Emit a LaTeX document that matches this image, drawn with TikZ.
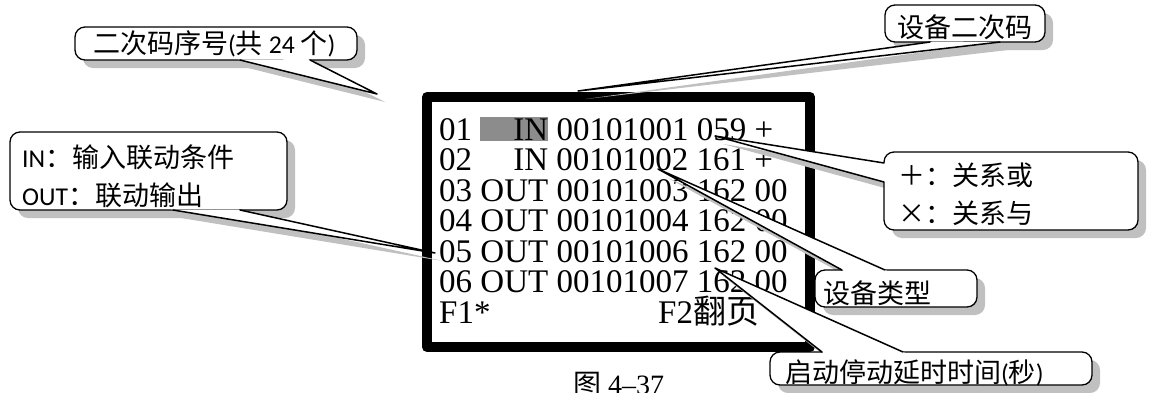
\documentclass[tikz,border=0pt]{standalone}
\usepackage{fontspec}
\setmainfont{Liberation Serif}
\newfontfamily\zh{Noto Sans CJK SC}
\newfontfamily\la[Scale=0.95]{Carlito}
\usetikzlibrary{calc,fit}
\definecolor{hlgray}{RGB}{140,140,140}
\definecolor{shadegray}{RGB}{192,192,192}
\newcommand\hlin[1]{{\fboxsep=0pt\colorbox{hlgray}{\rule[-1pt]{0pt}{24pt}\makebox[2.055em][r]{#1}}}}
\newcommand\typecol[1]{\makebox[2.055em][r]{#1}}
\tikzset{
  scrline/.style={anchor=base west, inner sep=0pt, font=\fontsize{33}{36}\selectfont},
  calltxt/.style={anchor=base west, inner sep=0pt, font=\zh\fontsize{27}{30}\selectfont},
  callbox/.style={draw, line width=1.3pt, fill=white, rounded corners=10pt, inner sep=0pt, outer sep=0pt},
  wedgeline/.style={line width=1.5pt},
}
\begin{document}
\begin{tikzpicture}[x=1pt, y=-1pt, line join=round, line cap=round]
\useasboundingbox (0,0) rectangle (1167,392);
% screen
\node[draw, line width=10pt, minimum width=383pt, minimum height=250pt, anchor=north west, inner sep=0pt, outer sep=0pt] (scr) at (427,97) {};
\foreach \txt [count=\i] in {
  {01 \hlin{IN} 00101001 059 +},
  {02 \typecol{IN} 00101002 161 +},
  {03 OUT 00101003 162 00},
  {04 OUT 00101004 162 00},
  {05 OUT 00101006 162 00},
  {06 OUT 00101007 162 00}}
  \node[scrline] (r\i) at (439,{140+30.5*(\i-1)}) {\txt};
\node[scrline] (f1) at (439,323) {F1*};
\node[scrline] (f2) at (658,323) {F2{\zh 翻页}};
\node[anchor=base west, inner sep=0pt, font=\fontsize{28}{30}\selectfont] (cap) at (573,394) {{\zh 图} 4--37};
% callouts: box corners, wedge base, tip
\path
  (75,27) coordinate (nw1) (357,60) coordinate (se1) (240,60) coordinate (a1) (310,60) coordinate (b1) (377,94) coordinate (tip1)
  (885,5) coordinate (nw2) (1045,42) coordinate (se2) (930,42) coordinate (a2) (1000,42) coordinate (b2) (578,91) coordinate (tip2)
  (10,132) coordinate (nw3) (287,210) coordinate (se3) (173,210) coordinate (a3) (240,210) coordinate (b3) (435,253) coordinate (tip3)
  (884,152) coordinate (nw4) (1138,230) coordinate (se4) (884,163) coordinate (a4) (884,182) coordinate (b4) (715,136) coordinate (tip4)
  (815,270) coordinate (nw5) (977,307) coordinate (se5) (842,270) coordinate (a5) (885,270) coordinate (b5) (658,169) coordinate (tip5)
  (770,352) coordinate (nw6) (1092,385) coordinate (se6) (822,352) coordinate (a6) (903,352) coordinate (b6) (715,268) coordinate (tip6)
  ;
\foreach \k in {1,...,6}{
  \fill[shadegray, rounded corners=10pt] ([shift={(8,8)}]nw\k) rectangle ([shift={(8,8)}]se\k);
  \fill[shadegray] ([shift={(8,8)}]a\k) -- ([shift={(8,8)}]tip\k) -- ([shift={(8,8)}]b\k) -- cycle;
}
\foreach \k in {1,...,6}{
  \node[callbox, fit=(nw\k)(se\k)] (c\k) {};
  \fill[white] ($(a\k)!-2pt!(tip\k)$) -- (tip\k) -- ($(b\k)!-2pt!(tip\k)$) -- cycle;
  \draw[wedgeline] (a\k) -- (tip\k) -- (b\k);
}
\node[calltxt] (t1) at (93,53) {二次码序号{\la(}共{\la\ 24 }个{\la)}};
\node[calltxt] (t2) at (897,37) {设备二次码};
\node[calltxt] (t3) at (22,167) {{\la IN}：输入联动条件};
\node[calltxt] (t3b) at (22,205) {{\la OUT}：联动输出};
\node[calltxt] (t4) at (898,185) {＋：关系或};
\node[calltxt] (t4b) at (898,223) {×：关系与};
\node[calltxt] (t5) at (823,303) {设备类型};
\node[calltxt] (t6) at (785,382) {启动停动延时时间{\la(}秒{\la)}};
\end{tikzpicture}
\end{document}
